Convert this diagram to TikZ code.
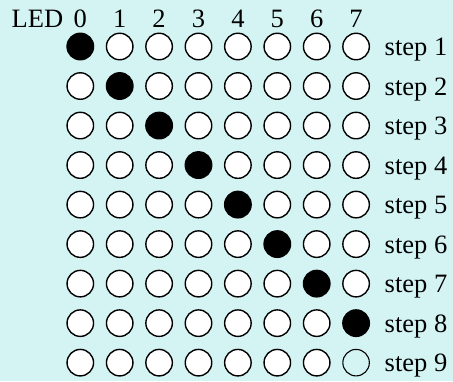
\documentclass[tikz,border=0pt]{standalone}
\usepackage{fontspec}
\setmainfont{Liberation Serif}
\definecolor{bgcyan}{RGB}{212,244,244}
\begin{document}
\begin{tikzpicture}[x=1pt,y=-1pt,
  lbl/.style={inner sep=0pt, font=\fontsize{26.5}{30}\selectfont},
  led/.style={circle, draw=black, line width=1.4pt, minimum size=26.5pt, inner sep=0pt, fill=white},
  ledon/.style={led, fill=black},
  ledoff/.style={circle, draw=black, line width=1.1pt, minimum size=26.5pt, inner sep=0pt}]
\fill[bgcyan] (0,0) rectangle (453,381);
\useasboundingbox (0,0) rectangle (453,381);
\node[lbl, anchor=base west] (led) at (11.5,27.5) {LED};
\foreach \i in {0,...,7} {
  \node[lbl, anchor=base] (n\i) at ({80.3+39.4*\i},27.5) {\i};
}
\foreach \r in {1,...,9} {
  \foreach \i in {0,...,7} {
    \pgfmathtruncatemacro{\on}{(\r-1)==\i ? 1 : 0}
    \ifnum\r=9 \ifnum\i=7
      \node[ledoff] (c\r-\i) at ({80.3+39.4*\i},{46.5+39.52*(\r-1)}) {};
    \else
      \node[led] (c\r-\i) at ({80.3+39.4*\i},{46.5+39.52*(\r-1)}) {};
    \fi
    \else
      \ifnum\on=1
        \node[ledon] (c\r-\i) at ({80.3+39.4*\i},{46.5+39.52*(\r-1)}) {};
      \else
        \node[led] (c\r-\i) at ({80.3+39.4*\i},{46.5+39.52*(\r-1)}) {};
      \fi
    \fi
  }
  \node[lbl, anchor=base west] (s\r) at (384.5,{55.5+39.52*(\r-1)}) {step \r};
}
\end{tikzpicture}
\end{document}
